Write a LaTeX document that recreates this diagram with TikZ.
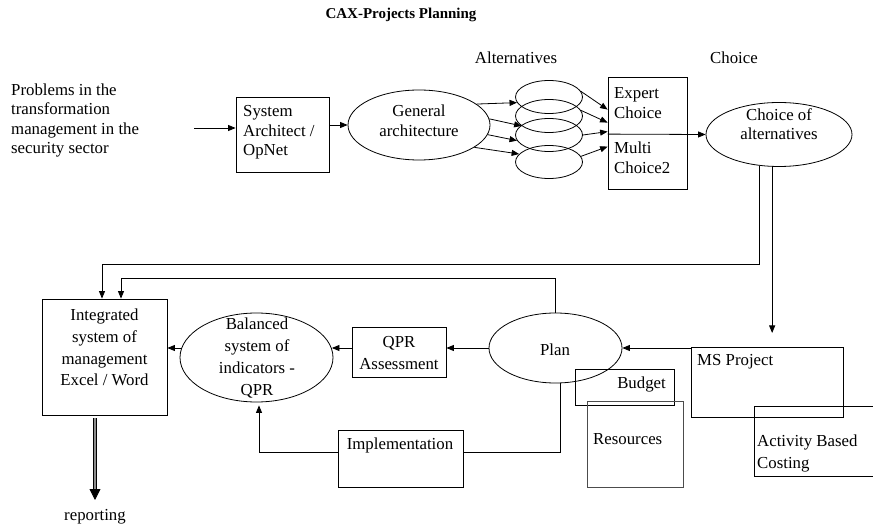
\documentclass[tikz,border=0pt]{standalone}
\usepackage{fontspec}
\setmainfont{Liberation Serif}
\usetikzlibrary{arrows.meta,shapes.geometric,calc}
\begin{document}
\begin{tikzpicture}[x=1pt,y=-1pt,
  every node/.style={font=\fontsize{16.8}{19.5}\selectfont, inner sep=0pt},
  rbox/.style={draw, rectangle, line width=0.8pt},
  ell/.style={draw, ellipse, line width=0.8pt},
  txt/.style={align=left},
  ctxt/.style={align=center},
  wide/.style={font=\fontsize{16.8}{21.7}\selectfont},
  arr/.style={line width=0.8pt, -{Triangle[length=7.5pt,width=6pt]}},
  ln/.style={line width=0.8pt}]
\useasboundingbox (0,0) rectangle (873,529);

% ---- labels
\node (title) at (401,15) {\fontsize{15}{18}\selectfont\bfseries CAX-Projects Planning};
\node (alt) at (516,58) {Alternatives};
\node (choicelbl) at (734,58) {Choice};
\node[txt, anchor=west] (prob) at (11,120.5) {Problems in the\\transformation\\management in the\\security sector};
\coordinate (pin) at (194,128);

% ---- top row
\node[rbox, minimum width=93, minimum height=75] (sys) at (282.5,134.5) {};
\node[txt, anchor=west] (systxt) at (243,132.5) {System\\Architect /\\OpNet};
\node[ell, minimum width=142, minimum height=70] (gen) at (419,125) {};
\node[ctxt] (gentxt) at (419,121) {General\\architecture};
\node[ell, minimum width=67, minimum height=33] (a1) at (549,97) {};
\node[ell, minimum width=67, minimum height=33] (a2) at (549,116) {};
\node[ell, minimum width=67, minimum height=33] (a3) at (549,135) {};
\node[ell, minimum width=67, minimum height=33] (a4) at (549,162) {};
\node[rbox, minimum width=79, minimum height=112] (ec) at (647.5,133) {};
\node[txt, anchor=west] (ectxt) at (614,103) {Expert\\Choice};
\node[txt, anchor=west] (mctxt) at (614,158) {Multi\\Choice2};
\node[ell, minimum width=146, minimum height=64] (choice) at (779,134.5) {};
\node[ctxt] (choicetxt) at (779,124) {Choice of\\alternatives};

% ---- bottom row
\node[rbox, minimum width=125, minimum height=116] (int) at (104.5,357) {};
\node[ctxt, wide] (inttxt) at (104.5,347.5) {Integrated\\system of\\management\\Excel / Word};
\node[ell, minimum width=153, minimum height=89] (bal) at (256.5,357.5) {};
\node[ctxt, wide] (baltxt) at (257,358) {Balanced\\system of\\indicators -\\QPR};
\node[rbox, minimum width=94, minimum height=50] (qpr) at (399,352) {};
\node[ctxt, wide] (qprtxt) at (399,353) {QPR\\Assessment};
\node[ell, minimum width=133, minimum height=70] (plan) at (555.5,348) {};
\node (plantxt) at (555,350) {Plan};
\node[rbox, minimum width=125, minimum height=57] (impl) at (400.5,458.5) {};
\node (impltxt) at (400,445) {Implementation};
\node[rbox, minimum width=99, minimum height=36] (bud) at (624.5,387) {};
\node[anchor=east] (budtxt) at (666,384) {Budget};
\node[rbox, draw=black!70, minimum width=96, minimum height=86] (res) at (635,444) {};
\node[anchor=west] (restxt) at (593,439) {Resources};
\node[rbox, minimum width=152, minimum height=70] (ms) at (767,382) {};
\node[anchor=west] (mstxt) at (697,362) {MS Project};
\node[rbox, minimum width=140, minimum height=70, anchor=north west] (abc) at (754,406) {};
\node[txt, wide, anchor=west] (abctxt) at (757,453.5) {Activity Based\\Costing};
\node (rep) at (95,517) {reporting};

% ---- connectors top
\draw[arr] (pin) -- (pin -| sys.west);
\draw[arr] (sys.east |- gen.west) -- (gen.west);
\draw[arr] (gen.20) -- (a1.190);
\draw[arr] (gen.5) -- (a2.200);
\draw[arr] (gen.-8) -- (a3.190);
\draw[arr] (gen.-22) -- (a4.165);
\draw[arr] (a1.10) -- ($(ec.north west)+(0,33)$);
\draw[arr] (a2.10) -- ($(ec.north west)+(0,46)$);
\draw[arr] (a3.east) -- ($(ec.north west)+(0,55)$);
\draw[arr] (a4.10) -- ($(ec.north west)+(0,70)$);
\draw[arr] ($(ec.north west)+(0,57.5)$) -- (choice.west);

% ---- from choice down
\coordinate (yA) at (0,264);
\coordinate (xA) at (102,0);
\draw[arr] (choice.238) -- (choice.238 |- yA) -- (xA |- yA) -- (xA |- int.north);
\coordinate (msin) at (773,333);
\draw[arr] (choice.258) -- (choice.258 |- msin);

% ---- plan loops
\coordinate (yP) at (0,278);
\coordinate (xP) at (121,0);
\draw[arr] (plan.north) -- (plan.north |- yP) -- (xP |- yP) -- (xP |- int.north);
\draw[arr] (ms.north west |- plan.east) -- (plan.east);
\draw[arr] (plan.west) -- (plan.west -| qpr.east);
\coordinate (yM) at (0,348);
\draw[arr] (qpr.west |- yM) -- ($(bal.east |- yM)+(-1.5,0)$);
\draw[arr] ($(bal.west |- yM)+(1.5,0)$) -- (int.east |- yM);
\coordinate (xB) at (560,0);
\coordinate (yB) at (0,452);
\draw[ln] (xB |- plan.south) -- (xB |- yB) -- (impl.east |- yB);
\coordinate (xI) at (259,0);
\draw[arr] (impl.west |- yB) -- (xI |- yB) -- ($(xI |- bal.south)+(0,3)$);

% ---- reporting
\coordinate (repend) at (95,500);
\coordinate (reptop) at (95,418);
\draw[ln, double=black!45, double distance=2.5pt, line width=0.7pt] (reptop) -- ($(repend)+(0,-9)$);
\draw[line width=0.8pt, -{Triangle[length=11pt,width=11pt]}] ($(repend)+(0,-11)$) -- (repend);
\end{tikzpicture}
\end{document}
